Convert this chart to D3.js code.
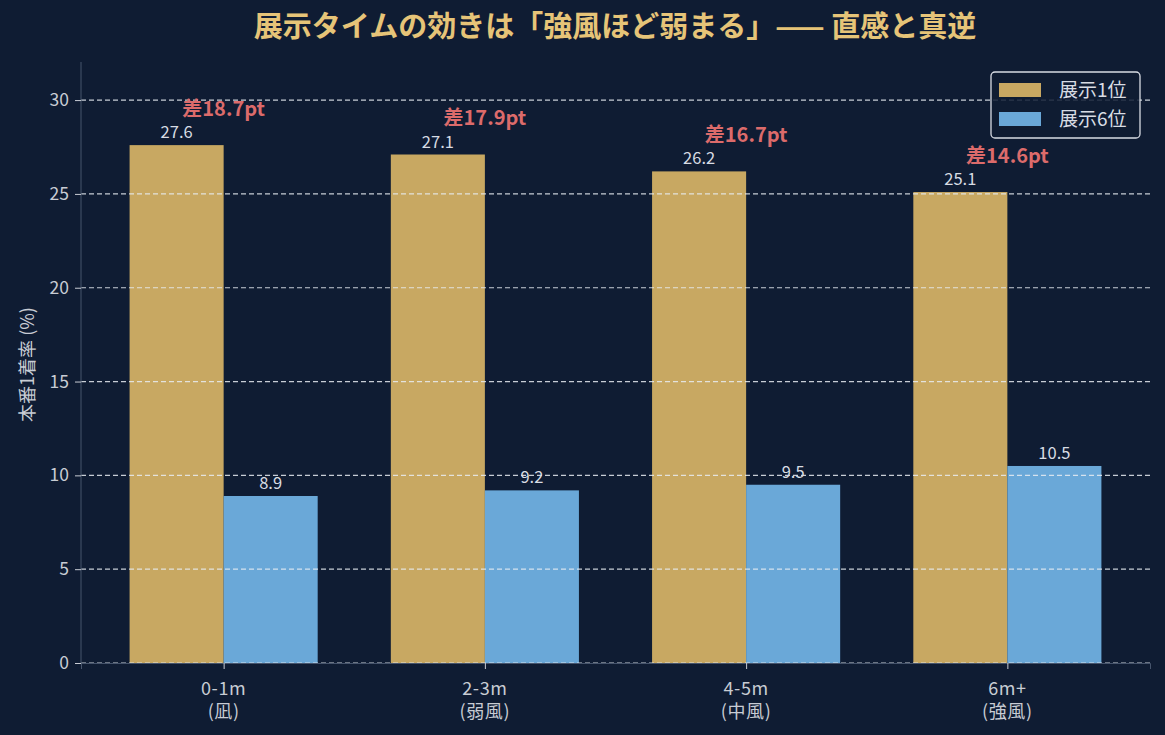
<!DOCTYPE html>
<html><head><meta charset="utf-8">
<script src="https://cdn.jsdelivr.net/npm/d3@7"></script>
<style>
html,body{margin:0;padding:0;background:#0f1c33;}
svg{display:block;}
text{font-family:"Noto Sans CJK JP","Noto Sans",sans-serif;}
</style></head><body>
<svg id="chart" width="1165" height="735"></svg>
<script>
const categories = ["0-1m", "2-3m", "4-5m", "6m+"];
const subLabels = ["(凪)", "(弱風)", "(中風)", "(強風)"];
const seriesNames = ["展示1位", "展示6位"];
const rank1 = [27.6, 27.1, 26.2, 25.1];
const rank6 = [8.9, 9.2, 9.5, 10.5];
const yTicks = [0, 5, 10, 15, 20, 25, 30];
const colors = ["#c8a862", "#6aa8d8"];

const svg = d3.select("#chart");
const W = 1165, H = 735;
const m = {l: 81, r: 15, t: 62, b: 72};
const bw = 0.36;
const x = d3.scaleLinear().domain([-0.546, 3.546]).range([m.l, W - m.r]);
const y = d3.scaleLinear().domain([0, 32.03]).range([H - m.b, m.t]);

svg.append("rect").attr("width", W).attr("height", H).attr("fill", "#0f1c33");

const g = svg.append("g");
const series = [rank1, rank6];
series.forEach((vals, si) => {
  g.selectAll(".b" + si).data(vals).enter().append("rect")
    .attr("x", (d, i) => x(i + (si === 0 ? -bw : 0)))
    .attr("width", x(bw) - x(0))
    .attr("y", d => y(d))
    .attr("height", d => y(0) - y(d))
    .attr("fill", colors[si]);
});

// axes
const yAxis = d3.axisLeft(y).tickValues(yTicks).tickSize(6).tickPadding(6);
const ya = svg.append("g").attr("transform", `translate(${m.l},0)`).call(yAxis);
ya.select(".domain").attr("stroke", "#46546c").attr("d", `M0,${y(0)}V${m.t}`);
ya.selectAll(".tick line").attr("stroke", "#c8ccd4");
ya.selectAll(".tick text").attr("fill", "#c8ccd4").attr("font-size", 17.5);

const xAxis = d3.axisBottom(x).tickValues([0, 1, 2, 3]).tickSize(6).tickFormat("");
const xa = svg.append("g").attr("transform", `translate(0,${y(0)})`).call(xAxis);
xa.select(".domain").attr("stroke", "#46546c");
xa.selectAll(".tick line").attr("stroke", "#c8ccd4");

// grid on top
g.selectAll(".grid").data(yTicks).enter().append("line")
  .attr("x1", m.l).attr("x2", W - m.r)
  .attr("y1", d => y(d)).attr("y2", d => y(d))
  .attr("stroke", "#e8ecf2").attr("stroke-opacity", 0.85)
  .attr("stroke-width", 1.2).attr("stroke-dasharray", "5,3");

categories.forEach((c, i) => {
  const t = svg.append("text").attr("x", x(i)).attr("text-anchor", "middle")
    .attr("fill", "#c8ccd4").attr("font-size", 18).attr("letter-spacing", 0.6);
  t.append("tspan").attr("x", x(i)).attr("y", 695).text(c);
  t.append("tspan").attr("x", x(i)).attr("y", 718).text(subLabels[i]);
});

// value labels
series.forEach((vals, si) => {
  svg.selectAll(".v" + si).data(vals).enter().append("text")
    .attr("x", (d, i) => x(i + (si === 0 ? -bw / 2 : bw / 2)))
    .attr("y", d => y(d) - 7)
    .attr("text-anchor", "middle").attr("fill", "#d8dce4").attr("font-size", 16.5)
    .text(d => d.toFixed(1));
});
// diff labels
rank1.forEach((v, i) => {
  svg.append("text").attr("x", x(i)).attr("y", y(v + 2) + 8)
    .attr("text-anchor", "middle").attr("fill", "#dc6b6b")
    .attr("font-size", 20).attr("font-weight", "bold")
    .text("差" + (v - rank6[i]).toFixed(1) + "pt");
});

// y label
svg.append("text").attr("transform", `translate(34,${(y(0) + m.t) / 2 + 2}) rotate(-90)`)
  .attr("text-anchor", "middle").attr("fill", "#c8ccd4").attr("font-size", 18)
  .text("本番1着率 (%)");

// title
svg.append("text").attr("x", 615).attr("y", 37).attr("text-anchor", "middle")
  .attr("fill", "#e6c478").attr("font-size", 29).attr("font-weight", "bold")
  .text("展示タイムの効きは「強風ほど弱まる」—— 直感と真逆");

// legend
const lg = svg.append("g").attr("transform", "translate(991,72)");
lg.append("rect").attr("width", 149).attr("height", 66).attr("rx", 4)
  .attr("fill", "#0f1c33").attr("fill-opacity", 0.85)
  .attr("stroke", "#d8dce4").attr("stroke-width", 1.3);
seriesNames.forEach((n, i) => {
  lg.append("rect").attr("x", 8).attr("y", 11 + i * 29).attr("width", 42).attr("height", 14)
    .attr("fill", colors[i]);
  lg.append("text").attr("x", 68).attr("y", 25 + i * 29).attr("fill", "#d8dce4")
    .attr("font-size", 19).text(n);
});
</script>
</body></html>
